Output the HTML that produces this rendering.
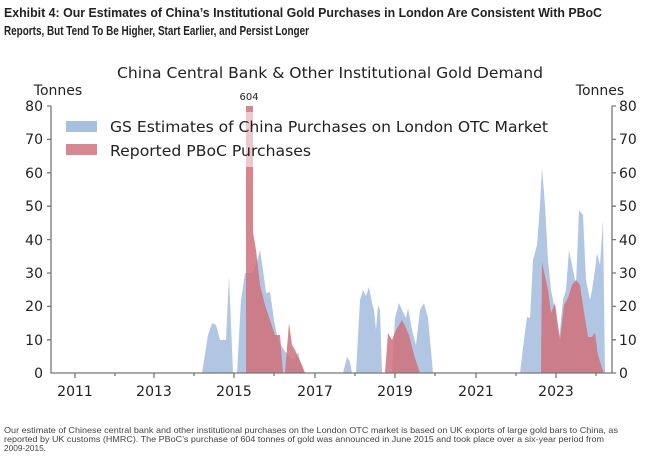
<!DOCTYPE html>
<html><head><meta charset="utf-8"><style>
body{margin:0;background:#fff;width:652px;height:459px;overflow:hidden}
svg{display:block}
.t{font-family:"DejaVu Sans","Liberation Sans",sans-serif;fill:#222}
.h{font-family:"Liberation Sans",sans-serif;font-weight:bold;fill:#222;font-size:12.5px}
.f{font-family:"Liberation Sans",sans-serif;fill:#444;font-size:8.4px}
</style></head><body>
<svg width="652" height="459" viewBox="0 0 652 459">
<text class="h" x="4" y="17" textLength="598" lengthAdjust="spacingAndGlyphs">Exhibit 4: Our Estimates of China’s Institutional Gold Purchases in London Are Consistent With PBoC</text>
<text class="h" x="4" y="35" textLength="305" lengthAdjust="spacingAndGlyphs">Reports, But Tend To Be Higher, Start Earlier, and Persist Longer</text>
<text class="t" x="117" y="78" font-size="15" textLength="426" lengthAdjust="spacingAndGlyphs">China Central Bank &amp; Other Institutional Gold Demand</text>
<text class="t" x="58" y="95" font-size="14" text-anchor="middle">Tonnes</text>
<text class="t" x="600" y="95" font-size="14" text-anchor="middle">Tonnes</text>
<path fill="#a8c0e0" opacity="0.9" d="M202,373 L208,335 L212,323 L216,325 L220,340 L226,340 L229,276 L233,373 Z
M237,373 L241,300 L245,273 L252,273 L256,265 L260,250 L263,270 L266,293 L270,292 L274,320 L278,340 L284,350 L290,358 L295,360 L298,352 L301,365 L305,373 Z
M343,373 L347,357 L350,362 L352,373 Z
M356,373 L360,300 L363,290 L366,296 L369,287 L372,303 L374,310 L376,330 L378,305 L380,310 L382,373 Z
M392,373 L395,318 L399,303 L402,310 L406,318 L408,308 L412,330 L416,345 L420,310 L424,303 L428,318 L433,373 Z
M520,373 L524,340 L527,317 L530,318 L533,260 L537,245 L540,205 L542,168 L545,205 L548,260 L551,290 L555,310 L559,340 L563,300 L566,290 L569,250 L572,265 L576,285 L579,210 L583,215 L586,280 L590,300 L592,290 L595,270 L597,253 L600,265 L603,220 L605,373 Z"/>
<path fill="#d0707a" opacity="0.85" d="M246,373 L246,106 L253,106 L253,232 L256,250 L260,285 L265,305 L270,320 L275,335 L280,335 L283,373 Z
M285,373 L289,323 L292,345 L295,350 L298,357 L302,365 L305,373 Z
M385,373 L388,333 L392,340 L396,330 L402,320 L406,328 L409,335 L414,355 L420,373 Z
M541,373 L542,262 L548,290 L551,313 L555,303 L560,340 L564,305 L568,298 L572,285 L576,280 L580,285 L584,312 L588,337 L592,337 L595,333 L598,355 L602,368 L604,373 Z"/>
<rect x="62" y="112" width="495" height="55" fill="#fff" opacity="0.55"/>
<rect x="66" y="121" width="31" height="11" fill="#a8c0e0"/>
<rect x="66" y="144" width="31" height="11" fill="#d88890"/>
<text class="t" x="110" y="132" font-size="15" textLength="438" lengthAdjust="spacingAndGlyphs">GS Estimates of China Purchases on London OTC Market</text>
<text class="t" x="110" y="156" font-size="15" textLength="201" lengthAdjust="spacingAndGlyphs">Reported PBoC Purchases</text>
<text class="t" x="249" y="100" font-size="10" text-anchor="middle">604</text>
<g stroke="#777" stroke-width="1.3" fill="none">
<path d="M51,106 V373 H612 V106"/>
<path d="M47,106H51M47,139.4H51M47,172.8H51M47,206.2H51M47,239.6H51M47,273H51M47,306.4H51M47,339.8H51
M612,106H616M612,139.4H616M612,172.8H616M612,206.2H616M612,239.6H616M612,273H616M612,306.4H616M612,339.8H616M612,373H616
M75,373V378M154,373V378M234,373V378M315,373V378M395,373V378M476,373V378M556,373V378
M115,373V376M194,373V376M274,373V376M355,373V376M435,373V376M516,373V376M596,373V376"/>
</g>
<g class="t" font-size="14">
<text x="43" y="111" text-anchor="end">80</text><text x="43" y="144" text-anchor="end">70</text>
<text x="43" y="178" text-anchor="end">60</text><text x="43" y="211" text-anchor="end">50</text>
<text x="43" y="245" text-anchor="end">40</text><text x="43" y="278" text-anchor="end">30</text>
<text x="43" y="311" text-anchor="end">20</text><text x="43" y="345" text-anchor="end">10</text>
<text x="43" y="378" text-anchor="end">0</text>
<text x="619" y="111">80</text><text x="619" y="144">70</text><text x="619" y="178">60</text>
<text x="619" y="211">50</text><text x="619" y="245">40</text><text x="619" y="278">30</text>
<text x="619" y="311">20</text><text x="619" y="345">10</text><text x="619" y="378">0</text>
<text x="75" y="396" text-anchor="middle">2011</text><text x="154" y="396" text-anchor="middle">2013</text>
<text x="234" y="396" text-anchor="middle">2015</text><text x="315" y="396" text-anchor="middle">2017</text>
<text x="395" y="396" text-anchor="middle">2019</text><text x="476" y="396" text-anchor="middle">2021</text>
<text x="556" y="396" text-anchor="middle">2023</text>
</g>
<text class="f" x="4" y="433" textLength="614" lengthAdjust="spacingAndGlyphs">Our estimate of Chinese central bank and other institutional purchases on the London OTC market is based on UK exports of large gold bars to China, as</text>
<text class="f" x="4" y="442" textLength="600" lengthAdjust="spacingAndGlyphs">reported by UK customs (HMRC). The PBoC’s purchase of 604 tonnes of gold was announced in June 2015 and took place over a six-year period from</text>
<text class="f" x="4" y="451" textLength="42" lengthAdjust="spacingAndGlyphs">2009-2015.</text>
</svg>
</body></html>
